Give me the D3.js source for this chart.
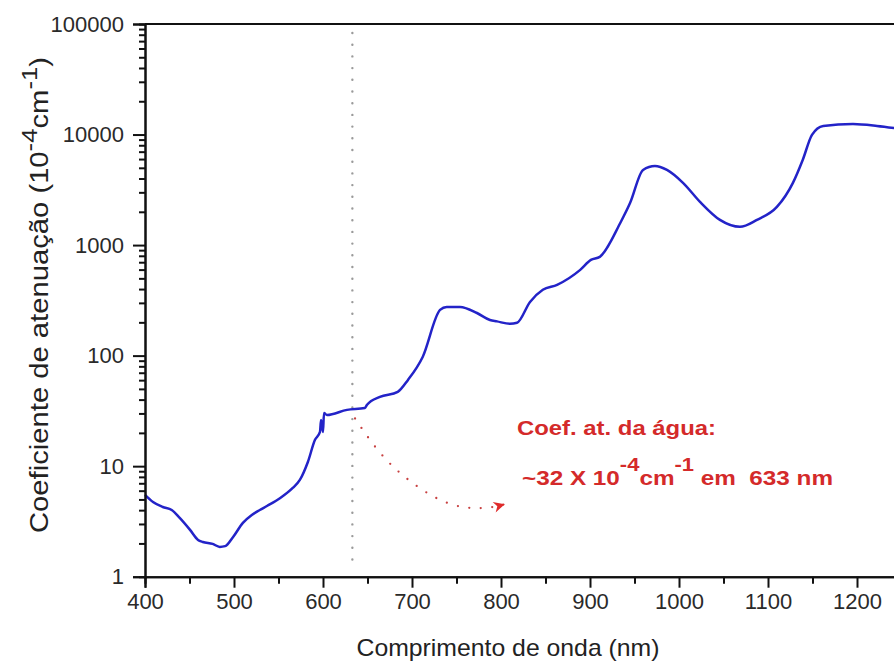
<!DOCTYPE html>
<html>
<head>
<meta charset="utf-8">
<script src="https://cdn.jsdelivr.net/npm/d3@7/dist/d3.min.js"></script>
<style>
  html, body { margin: 0; padding: 0; background: #fff; }
  svg { display: block; }
  text { font-family: "Liberation Sans", Arial, Helvetica, sans-serif; }
</style>
</head>
<body>
<svg id="chart" width="894" height="661"></svg>
<script>
// Attenuation spectrum of water (units of 10^-4 cm^-1) versus wavelength
const wavelength = [400, 409, 420, 430, 439, 450.6, 459.6, 465, 476, 484, 490, 499, 510,
  520, 529, 537, 552, 566, 574, 583,
  591, 596.6, 597.8, 600, 601.1, 604.5, 627, 647, 649.5, 664, 684, 695.5, 712, 731.5,
  739, 754, 773, 787.6, 795.5, 810, 818, 832.6, 847, 863, 889, 901, 911, 934, 945,
  959.6, 973, 986.5, 1004.5, 1023.6, 1046, 1068.5, 1087.6, 1110, 1128, 1139, 1149.4,
  1162, 1195.5, 1222.5, 1242];
const attenuation = [5.5, 4.74, 4.27, 4.01, 3.4, 2.65, 2.15, 2.06, 1.98, 1.86, 1.89, 2.29, 3.07,
  3.62, 4.01, 4.36, 5.15, 6.35, 7.5, 10.9,
  17.3, 20.4, 26.2, 20.4, 30.3, 29, 32.3, 33.6, 35.9, 42.3, 47, 60.3, 97.3,
  259, 276, 276, 243, 210, 204, 194, 198, 306, 394, 437, 597, 734, 782, 1585, 2400,
  4786, 5200, 4786, 3655, 2460, 1690, 1462, 1690, 2213, 3655, 5890, 9930, 11970,
  12470, 11970, 11420];

const xTicks = [400, 500, 600, 700, 800, 900, 1000, 1100, 1200];
const yTicks = [1, 10, 100, 1000, 10000, 100000];

// Reference wavelength and the annotation arrow path (data space)
const markWavelength = 633;
const arrowWl = [636, 660, 688, 728, 760, 790, 803];
const arrowVal = [27, 14, 8.2, 4.9, 4.1, 4.2, 4.5];

const svg = d3.select("#chart");
const plotLeft = 145, plotTop = 24, plotBottom = 576.7, plotRight = 901.5;

const x = d3.scaleLinear().domain([400, 1250]).range([plotLeft, plotRight]);
const y = d3.scaleLog().domain([1, 100000]).range([plotBottom, plotTop]);

// Dotted guide at 633 nm
svg.append("line")
  .attr("x1", x(markWavelength)).attr("x2", x(markWavelength))
  .attr("y1", plotTop + 9).attr("y2", plotBottom - 9)
  .attr("stroke", "#9a9a9a").attr("stroke-width", 2.4)
  .attr("stroke-linecap", "round")
  .attr("stroke-dasharray", "0,11.7");

// Spectrum curve
const pts = wavelength.map((w, i) => [w, attenuation[i]]);
svg.append("path")
  .datum(pts)
  .attr("fill", "none")
  .attr("stroke", "#2323c8")
  .attr("stroke-width", 2.5)
  .attr("stroke-linejoin", "round")
  .attr("d", d3.line().x(d => x(d[0])).y(d => y(d[1])).curve(d3.curveMonotoneX));

// Annotation arrow
const defs = svg.append("defs");
defs.append("marker")
  .attr("id", "head").attr("viewBox", "0 0 10 10")
  .attr("refX", 9).attr("refY", 5)
  .attr("markerWidth", 15).attr("markerHeight", 11)
  .attr("markerUnits", "userSpaceOnUse")
  .attr("orient", "auto")
  .append("path").attr("d", "M0,0 L10,5 L0,10 L3,5 Z").attr("fill", "#e02a2a");

const arrowPts = arrowWl.map((w, i) => [w, arrowVal[i]]);
svg.append("path")
  .datum(arrowPts)
  .attr("fill", "none")
  .attr("stroke", "#c84040").attr("stroke-width", 2.3)
  .attr("stroke-linecap", "round")
  .attr("stroke-dasharray", "0,11.5")
  .attr("d", d3.line().x(d => x(d[0])).y(d => y(d[1])).curve(d3.curveBasis));
svg.append("path")
  .datum(arrowPts.slice(-2))
  .attr("fill", "none").attr("stroke", "none")
  .attr("marker-end", "url(#head)")
  .attr("d", d3.line().x(d => x(d[0])).y(d => y(d[1])));

// Frame: top and right edges
svg.append("line").attr("x1", plotLeft).attr("x2", plotRight).attr("y1", plotTop).attr("y2", plotTop)
  .attr("stroke", "#111").attr("stroke-width", 2);
svg.append("line").attr("x1", plotRight).attr("x2", plotRight).attr("y1", plotTop).attr("y2", plotBottom)
  .attr("stroke", "#111").attr("stroke-width", 2);

// X axis with minor ticks at 50 nm
const xMinor = d3.range(450, 1250, 100);
const gx = svg.append("g").attr("transform", `translate(0,${plotBottom})`);
gx.append("g").call(d3.axisBottom(x).tickValues(xMinor).tickSize(7).tickFormat(""));
gx.append("g").call(d3.axisBottom(x).tickValues(xTicks).tickSize(11).tickPadding(6).tickFormat(d3.format("d")));
gx.selectAll(".domain").attr("stroke", "#111").attr("stroke-width", 2);
gx.selectAll(".tick line").attr("stroke", "#111").attr("stroke-width", 2);
gx.selectAll("text").attr("font-size", 22).attr("fill", "#2a2a2a")
  .style("font-family", "'Liberation Sans', Arial, sans-serif");

// Y axis (log) with minor ticks 2..9 per decade
const yMinor = [];
yTicks.slice(0, -1).forEach(t => { for (let k = 2; k <= 9; k++) yMinor.push(t * k); });
const gy = svg.append("g").attr("transform", `translate(${plotLeft},0)`);
gy.append("g").call(d3.axisLeft(y).tickValues(yMinor).tickSize(6).tickFormat(""));
gy.append("g").call(d3.axisLeft(y).tickValues(yTicks).tickSize(12).tickPadding(9).tickFormat(d3.format("d")));
gy.selectAll(".domain").attr("stroke", "#111").attr("stroke-width", 2);
gy.selectAll(".tick line").attr("stroke", "#111").attr("stroke-width", 2);
gy.selectAll("text").attr("font-size", 22).attr("fill", "#2a2a2a")
  .style("font-family", "'Liberation Sans', Arial, sans-serif");

// Axis titles
svg.append("text")
  .attr("x", 508).attr("y", 656)
  .attr("text-anchor", "middle").attr("font-size", 24).attr("fill", "#222")
  .attr("textLength", 303).attr("lengthAdjust", "spacingAndGlyphs")
  .text("Comprimento de onda (nm)");

const yt = svg.append("text")
  .attr("transform", "translate(48,295) rotate(-90)")
  .attr("text-anchor", "middle").attr("font-size", 25).attr("fill", "#222")
  .attr("textLength", 476).attr("lengthAdjust", "spacingAndGlyphs");
yt.append("tspan").text("Coeficiente de atenuação (10");
yt.append("tspan").attr("font-size", 22).attr("dy", -11).text("-4");
yt.append("tspan").attr("dy", 11).text("cm");
yt.append("tspan").attr("font-size", 22).attr("dy", -11).text("-1");
yt.append("tspan").attr("dy", 11).text(")");

// Red note
const note = svg.append("g").attr("fill", "#d42a2a").attr("font-weight", "bold");
note.append("text").attr("x", 517).attr("y", 435).attr("font-size", 20)
  .attr("textLength", 199).attr("lengthAdjust", "spacingAndGlyphs")
  .text("Coef. at. da água:");
const l2 = note.append("text").attr("x", 522).attr("y", 485).attr("font-size", 21)
  .attr("textLength", 311).attr("lengthAdjust", "spacingAndGlyphs");
l2.append("tspan").text("~32 X 10");
l2.append("tspan").attr("font-size", 19).attr("dy", -14).text("-4");
l2.append("tspan").attr("dy", 14).text("cm");
l2.append("tspan").attr("font-size", 19).attr("dy", -14).text("-1");
l2.append("tspan").attr("dy", 14).text(" em\u00a0 633 nm");
</script>
</body>
</html>
